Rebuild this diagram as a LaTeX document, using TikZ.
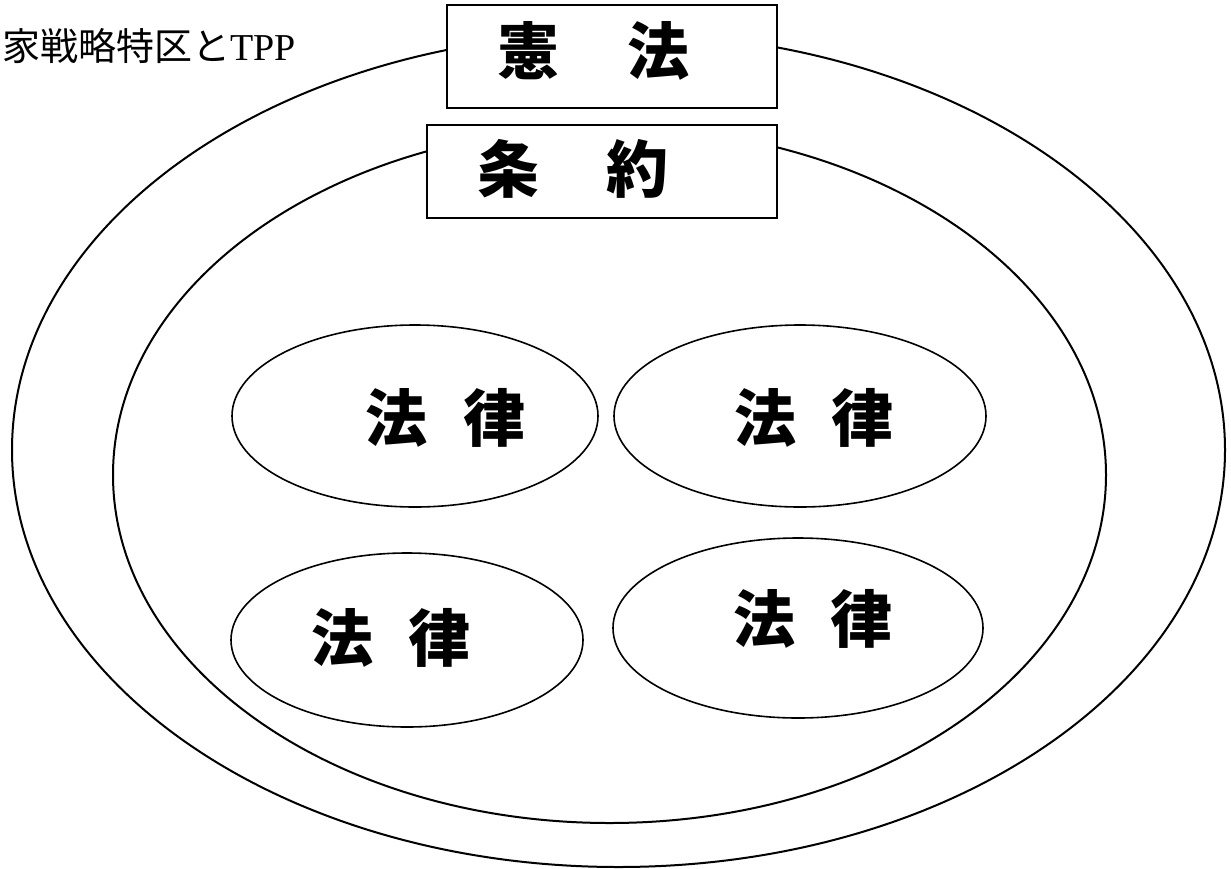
\documentclass[tikz,border=0pt]{standalone}
\usepackage{fontspec}
\setmainfont{Liberation Serif}
\newfontfamily\cjk{Noto Sans CJK JP}
\usetikzlibrary{shapes.geometric}
\tikzset{
  ring/.style={draw, ellipse, line width=1pt, inner sep=0pt},
  lawring/.style={draw, ellipse, line width=0.8pt, inner sep=0pt},
  titlebox/.style={draw, fill=white, rectangle, line width=1pt, inner sep=0pt},
  bigtext/.style={inner sep=0pt, font=\cjk\bfseries\fontsize{31pt}{31pt}\selectfont},
  headtext/.style={inner sep=0pt, anchor=west, font=\fontsize{19pt}{19pt}\selectfont}
}
\begin{document}
\begin{tikzpicture}[x=0.5pt,y=-0.5pt]
\useasboundingbox (0,0) rectangle (1231,868);
% outer and inner rings
\node[ring, minimum width=606.5pt, minimum height=417pt] (outer) at (618.5,450) {};
\node[ring, minimum width=496.5pt, minimum height=348pt] (inner) at (609.5,475) {};
% boxes
\node[titlebox, minimum width=165pt, minimum height=51.5pt] (kenpobox) at (612,56.5) {};
\node[titlebox, minimum width=175pt, minimum height=46.5pt] (joyakubox) at (602,171.5) {};
\node[bigtext] (kenpo) at (593.5,51) {憲\hspace{34.5pt}法};
\node[bigtext] (joyaku) at (573,169) {条\hspace{34pt}約};
% law ellipses
\node[lawring, minimum width=183pt, minimum height=91pt] (lawTL) at (415,416) {};
\node[lawring, minimum width=186pt, minimum height=91pt] (lawTR) at (800,416) {};
\node[lawring, minimum width=176pt, minimum height=87pt] (lawBL) at (407,640) {};
\node[lawring, minimum width=185pt, minimum height=90pt] (lawBR) at (798,628) {};
\node[bigtext] (tTL) at (445.5,418) {法\hspace{18pt}律};
\node[bigtext] (tTR) at (814,418) {法\hspace{18pt}律};
\node[bigtext] (tBL) at (391,638) {法\hspace{18pt}律};
\node[bigtext] (tBR) at (813,619) {法\hspace{18pt}律};
% heading
\node[headtext] (head) at (2,46.5) {{\cjk 家戦略特区と}TPP};
\end{tikzpicture}
\end{document}
